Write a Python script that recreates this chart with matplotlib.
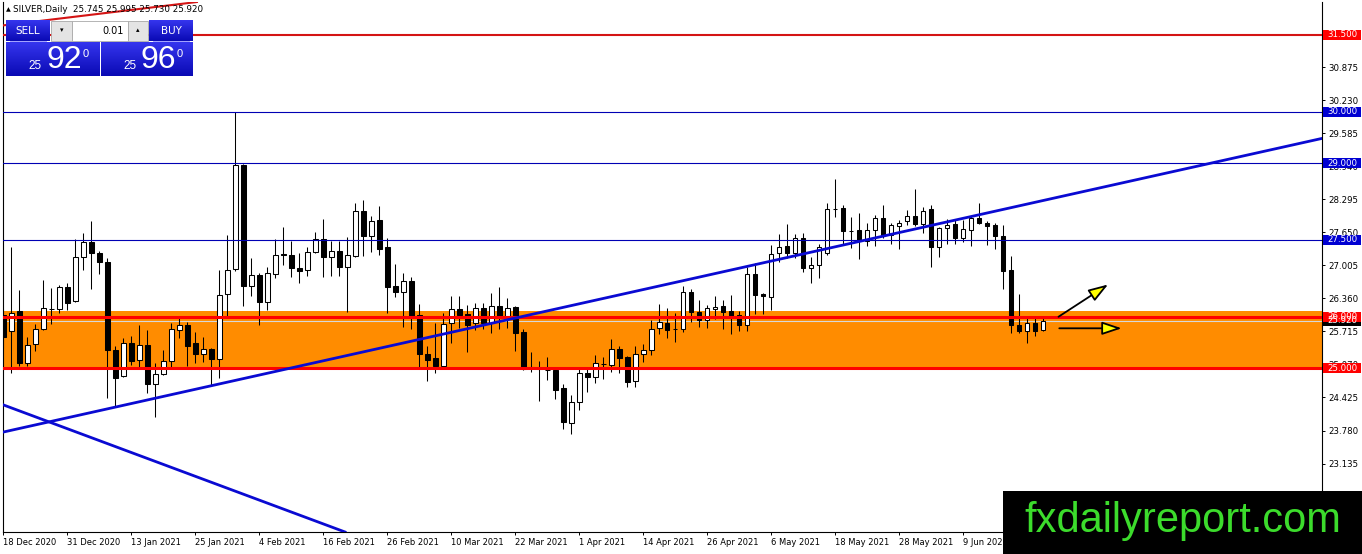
import matplotlib
matplotlib.use("Agg")
import matplotlib.pyplot as plt
import matplotlib.transforms as mtransforms
from matplotlib.patches import Rectangle, FancyArrowPatch
from matplotlib.colors import LinearSegmentedColormap
import numpy as np

# daily OHLC, SILVER, 18 Dec 2020 .. 23 Jun 2021
opens = [26.03, 25.73, 26.11, 25.10, 25.46, 25.76, 26.15, 26.15, 26.58, 26.30,
         27.16, 27.46, 27.25, 27.07, 25.35, 24.84, 25.48, 25.15, 25.44, 24.68,
         24.88, 25.14, 25.74, 25.83, 25.48, 25.27, 25.38, 25.18, 26.44, 26.93,
         28.96, 26.61, 26.82, 26.28, 26.83, 27.22, 27.21, 26.95, 26.91, 27.26,
         27.51, 27.16, 27.29, 26.97, 27.19, 28.06, 27.58, 27.89, 27.36, 26.60,
         26.49, 26.70, 26.03, 25.27, 25.19, 25.04, 25.87, 26.16, 26.05, 25.88,
         26.17, 25.87, 26.22, 26.02, 26.20, 25.70, 25.00, 24.99, 24.97, 24.97,
         24.60, 23.93, 24.33, 24.90, 24.82, 25.08, 25.06, 25.38, 25.21, 24.75,
         25.27, 25.35, 25.79, 25.88, 25.76, 25.77, 26.48, 26.09, 25.94, 26.15,
         26.21, 26.11, 26.03, 25.83, 26.83, 26.44, 26.39, 27.24, 27.38, 27.24,
         27.54, 26.95, 27.02, 27.24, 28.11, 28.12, 27.68, 27.69, 27.48, 27.69,
         27.92, 27.60, 27.77, 27.86, 27.97, 27.82, 28.10, 27.37, 27.74, 27.81,
         27.54, 27.69, 27.92, 27.84, 27.79, 27.58, 26.91, 25.84, 25.73, 25.87,
         25.745]
highs = [26.15, 27.36, 26.52, 25.61, 25.86, 26.72, 26.56, 26.62, 26.65, 27.51,
         27.63, 27.86, 27.28, 27.14, 25.43, 25.59, 25.62, 25.84, 25.74, 25.09,
         25.36, 25.88, 25.99, 25.90, 25.70, 25.60, 25.40, 26.91, 27.60, 30.00,
         28.98, 27.14, 26.86, 26.98, 27.51, 27.76, 27.47, 27.24, 27.37, 27.66,
         27.91, 27.47, 27.47, 27.56, 28.23, 28.28, 27.97, 28.16, 27.53, 27.03,
         26.85, 26.77, 26.24, 25.43, 25.87, 26.07, 26.41, 26.41, 26.23, 26.26,
         26.26, 26.46, 26.59, 26.36, 26.22, 25.77, 25.32, 25.14, 25.21, 25.00,
         24.69, 24.47, 24.99, 24.99, 25.25, 25.21, 25.57, 25.43, 25.23, 25.43,
         25.47, 25.94, 26.24, 26.18, 26.07, 26.60, 26.54, 26.33, 26.23, 26.41,
         26.33, 26.43, 26.12, 26.98, 27.04, 26.46, 27.40, 27.62, 27.82, 27.61,
         27.63, 27.17, 27.43, 28.23, 28.68, 28.18, 27.94, 28.02, 27.84, 27.99,
         28.18, 27.84, 27.89, 28.08, 28.49, 28.14, 28.18, 27.76, 27.90, 27.90,
         27.89, 27.97, 28.23, 27.87, 27.84, 27.79, 27.19, 26.44, 26.01, 25.97,
         25.995]
lows = [25.40, 24.90, 25.03, 25.03, 25.34, 25.74, 25.86, 26.08, 26.13, 26.28,
        26.91, 26.54, 26.83, 24.41, 24.24, 24.82, 25.06, 25.01, 24.52, 24.04,
        24.86, 24.99, 25.58, 25.03, 25.09, 25.12, 24.65, 24.80, 26.00, 26.90,
        26.22, 26.41, 25.83, 26.13, 26.75, 27.01, 26.77, 26.65, 26.80, 27.24,
        26.78, 26.80, 26.80, 26.09, 27.17, 27.19, 27.26, 27.21, 26.07, 26.38,
        25.81, 25.77, 24.99, 24.75, 24.90, 25.00, 25.48, 25.79, 25.32, 25.74,
        25.77, 25.69, 25.77, 25.79, 25.34, 24.96, 24.93, 24.36, 24.77, 24.39,
        23.80, 23.71, 24.19, 24.54, 24.70, 24.78, 24.93, 24.91, 24.63, 24.62,
        25.12, 25.25, 25.66, 25.58, 25.51, 25.71, 25.90, 25.81, 25.79, 25.95,
        25.77, 25.66, 25.72, 25.72, 26.05, 26.05, 26.13, 27.06, 27.14, 27.14,
        26.88, 26.65, 26.75, 27.21, 27.95, 27.43, 27.34, 27.12, 27.38, 27.38,
        27.53, 27.43, 27.32, 27.80, 27.77, 27.63, 26.98, 27.16, 27.42, 27.43,
        27.45, 27.38, 27.82, 27.40, 27.32, 26.54, 25.69, 25.68, 25.48, 25.63,
        25.730]
closes = [25.61, 26.08, 25.10, 25.44, 25.76, 26.17, 26.16, 26.58, 26.26, 27.16,
          27.46, 27.24, 27.06, 25.35, 24.81, 25.48, 25.14, 25.44, 24.68, 24.88,
          25.14, 25.76, 25.83, 25.42, 25.27, 25.38, 25.18, 26.42, 26.91, 28.96,
          26.61, 26.82, 26.28, 26.85, 27.21, 27.20, 26.95, 26.90, 27.27, 27.51,
          27.16, 27.29, 26.97, 27.21, 28.06, 27.58, 27.86, 27.32, 26.59, 26.49,
          26.70, 26.02, 25.28, 25.16, 25.04, 25.85, 26.16, 26.03, 25.84, 26.17,
          25.87, 26.22, 26.02, 26.18, 25.68, 24.99, 25.01, 24.98, 24.96, 24.58,
          23.95, 24.33, 24.90, 24.82, 25.09, 25.08, 25.38, 25.20, 24.73, 25.27,
          25.35, 25.77, 25.89, 25.74, 25.76, 26.48, 26.09, 25.94, 26.17, 26.20,
          26.10, 26.02, 25.83, 26.83, 26.42, 26.40, 27.22, 27.37, 27.24, 27.53,
          26.96, 27.02, 27.36, 28.10, 28.10, 27.67, 27.67, 27.48, 27.69, 27.92,
          27.60, 27.79, 27.84, 27.97, 27.81, 28.07, 27.37, 27.73, 27.80, 27.53,
          27.71, 27.92, 27.84, 27.78, 27.58, 26.90, 25.83, 25.73, 25.88, 25.72,
          25.920]

date_labels = ["18 Dec 2020", "31 Dec 2020", "13 Jan 2021", "25 Jan 2021", "4 Feb 2021",
               "16 Feb 2021", "26 Feb 2021", "10 Mar 2021", "22 Mar 2021", "1 Apr 2021",
               "14 Apr 2021", "26 Apr 2021", "6 May 2021", "18 May 2021", "28 May 2021",
               "9 Jun 2021"]
date_bars = [0, 8, 16, 24, 32, 40, 48, 56, 64, 72, 80, 88, 96, 104, 112, 120]

price_ticks = [23.135, 23.780, 24.425, 25.070, 25.715, 26.360, 27.005, 27.650,
               28.295, 28.940, 29.585, 30.230, 30.875, 31.520]

top_level = 31.5
blue_levels = [30.0, 29.0, 27.5]
red_levels = [26.0, 25.0]
zone_low, zone_high = 24.97, 26.11
bid = 25.92

trend_up = [(0, 23.75), (164.8, 29.48)]
trend_down = [(0, 24.28), (42.7, 21.80)]
red_diag = [(8.96, 31.857), (24.2, 32.144)]
arrow_up = [(131.9, 26.00), (138.1, 26.63)]
arrow_flat = [(132.0, 25.775), (139.8, 25.775)]

W, H = 1362, 554
fig = plt.figure(figsize=(W / 100, H / 100), dpi=100)
fig.patch.set_facecolor("white")
ax = fig.add_axes([3 / W, (H - 532) / H, 1319 / W, 530 / H])
ax.set_xlim(-0.04, 164.84)
ax.set_ylim(21.799, 32.144)

o = np.array(opens); c = np.array(closes)
hi = np.array(highs); lo = np.array(lows)
idx = np.arange(len(o))
up = c >= o
body_lo = np.minimum(o, c)
body_h = np.abs(c - o)

# zone + bid line in background
ax.axhspan(zone_low, zone_high, color="#ff8c00", lw=0, zorder=1)
ax.axhline(bid, color="#d8d8d8", lw=0.8, zorder=1.5)

# candles
ax.vlines(idx, lo, hi, color="black", lw=0.75, zorder=2)
ax.bar(idx[up], body_h[up], bottom=body_lo[up], width=0.55,
       facecolor="white", edgecolor="black", lw=0.75, zorder=3)
ax.bar(idx[~up], body_h[~up], bottom=body_lo[~up], width=0.55,
       facecolor="black", edgecolor="black", lw=0.75, zorder=3)

# objects
ax.axhline(top_level, color="#d41414", lw=1.5, zorder=4)
for lv in blue_levels:
    ax.axhline(lv, color="#0000b4", lw=0.8, zorder=4)
for lv in red_levels:
    ax.axhline(lv, color="#ff0000", lw=2.2, zorder=4)
ax.axline(trend_up[0], trend_up[1], color="#0a0ad2", lw=2.0, zorder=4)
ax.axline(trend_down[0], trend_down[1], color="#0a0ad2", lw=2.0, zorder=4)
ax.axline(red_diag[0], red_diag[1], color="#d41414", lw=1.5, zorder=4)

for a in (arrow_up, arrow_flat):
    ar = FancyArrowPatch(a[0], a[1], arrowstyle="-|>,head_length=12,head_width=4",
                         mutation_scale=1, lw=1.3, edgecolor="black",
                         facecolor="#ffff00", shrinkA=0, shrinkB=0, zorder=5)
    ax.add_patch(ar)

# axes styling
for s in ("top",):
    ax.spines[s].set_visible(False)
for s in ("left", "right", "bottom"):
    ax.spines[s].set_linewidth(0.8)
ax.yaxis.tick_right()
ax.set_yticks(price_ticks)
ax.set_yticklabels(["%.3f" % t for t in price_ticks])
ax.tick_params(axis="y", length=2.5, width=0.7, pad=2, labelsize=6.2, direction="out")
ax.set_xticks(date_bars)
ax.set_xticklabels(date_labels, ha="left")
ax.tick_params(axis="x", length=2.5, width=0.7, pad=2, labelsize=6.0, direction="out")

# right-axis price boxes
bt = mtransforms.blended_transform_factory(ax.transAxes, ax.transData)
bx0, bw, bh = 1.0008, 38 / 1319, 10.5 / 51.23

def price_box(p, fc):
    ax.add_patch(Rectangle((bx0, p - bh / 2), bw, bh, transform=bt, facecolor=fc,
                           edgecolor="none", clip_on=False, zorder=10))
    ax.text(bx0 + bw / 2, p, "%.3f" % p, transform=bt, ha="center", va="center",
            color="white", fontsize=6.2, clip_on=False, zorder=11)

price_box(bid, "black")
price_box(top_level, "#ff0000")
for lv in blue_levels:
    price_box(lv, "#0000d2")
for lv in red_levels:
    price_box(lv, "#ff0000")

# overlay in pixel coordinates: header, trade panel, watermark
ov = fig.add_axes([0, 0, 1, 1], zorder=20)
ov.set_axis_off()
ov.patch.set_alpha(0)

ov.text(6, 10, "\u25b2", fontsize=4.5, va="center", ha="left")
ov.text(13, 10, "SILVER,Daily  %.3f %.3f %.3f %.3f" % (opens[-1], highs[-1], lows[-1], closes[-1]),
        fontsize=6.3, va="center", ha="left")

blue_cm = LinearSegmentedColormap.from_list("pb", ["#3535ee", "#0a0ab4"])
grad = np.linspace(0, 1, 40).reshape(-1, 1)

def blue_box(x0, y0, x1, y1):
    ov.imshow(grad, extent=(x0, x1, y1, y0), aspect="auto", cmap=blue_cm, zorder=1)

blue_box(6, 20.5, 50, 41)
blue_box(149, 20.5, 193, 41)
blue_box(6, 42, 99.5, 76)
blue_box(101, 42, 193, 76)
ov.plot([10, 46], [40.5, 40.5], color="#9090ff", lw=0.6, zorder=2)
ov.plot([153, 189], [40.5, 40.5], color="#9090ff", lw=0.6, zorder=2)
ov.text(28, 30.5, "SELL", color="white", fontsize=7.5, ha="center", va="center", zorder=3)
ov.text(171, 30.5, "BUY", color="white", fontsize=7.5, ha="center", va="center", zorder=3)

ov.add_patch(Rectangle((51, 20.5), 21, 20.5, facecolor="#e4e4e4", edgecolor="#a8a8a8", lw=0.6, zorder=1))
ov.add_patch(Rectangle((72, 20.5), 56, 20.5, facecolor="white", edgecolor="#a8a8a8", lw=0.6, zorder=1))
ov.add_patch(Rectangle((128, 20.5), 20, 20.5, facecolor="#e4e4e4", edgecolor="#a8a8a8", lw=0.6, zorder=1))
ov.text(61.5, 30.5, "\u25be", fontsize=5, ha="center", va="center", zorder=3)
ov.text(138, 30.5, "\u25b4", fontsize=5, ha="center", va="center", zorder=3)
ov.text(124, 30.5, "0.01", fontsize=7, ha="right", va="center", zorder=3)

big = dict(color="white", family="Liberation Sans", zorder=3)
ov.text(42, 69, "25", fontsize=8.5, ha="right", va="baseline", **big)
ov.text(46, 68, "92", fontsize=23, ha="left", va="baseline", **big)
ov.text(83, 57, "0", fontsize=8, ha="left", va="baseline", **big)
ov.text(137, 69, "25", fontsize=8.5, ha="right", va="baseline", **big)
ov.text(140, 68, "96", fontsize=23, ha="left", va="baseline", **big)
ov.text(177, 57, "0", fontsize=8, ha="left", va="baseline", **big)

ov.add_patch(Rectangle((1003, 491), 359, 63, facecolor="black", edgecolor="none", zorder=5))
ov.text(1183, 532, "fxdailyreport.com", color="#3cdc2c", family="Liberation Sans",
        fontsize=30, ha="center", va="baseline", zorder=6)

ov.set_xlim(0, W)
ov.set_ylim(H, 0)

fig.savefig("out.png", dpi=100, facecolor="white")
